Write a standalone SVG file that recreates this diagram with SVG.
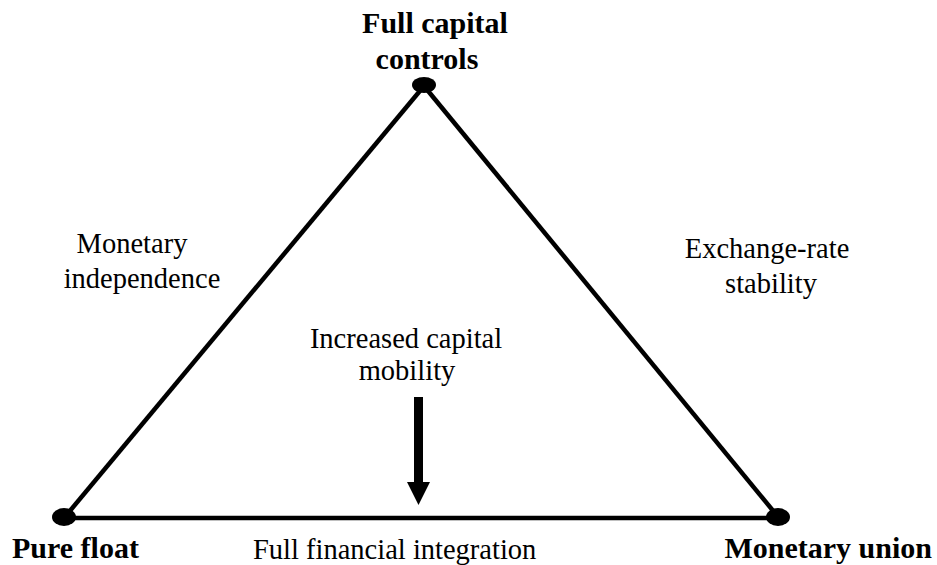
<svg xmlns="http://www.w3.org/2000/svg" width="937" height="565" viewBox="0 0 937 565">
<style>
.b{font-family:"Liberation Serif","Times New Roman",serif;font-weight:bold;font-size:30px;fill:#000}
.r{font-family:"Liberation Serif","Times New Roman",serif;font-size:28.5px;fill:#000}
.m{text-anchor:middle}
.edge{stroke:#000;stroke-width:4.5;fill:none}
.dot{fill:#000}
</style>
<rect width="937" height="565" fill="#fff"/>
<g id="connectors">
<line class="edge" x1="64" y1="518" x2="424" y2="86"/>
<line class="edge" x1="424" y1="86" x2="779" y2="518"/>
<line class="edge" x1="64" y1="518" x2="779" y2="518"/>
<g id="arrow">
<rect x="414" y="397" width="9" height="86" fill="#000"/>
<polygon points="407,482 430,482 418.5,505" fill="#000"/>
</g>
</g>
<g id="full-capital-controls">
<ellipse class="dot" cx="424" cy="85" rx="12" ry="8"/>
<text class="b m" x="435" y="33">Full capital</text>
<text class="b m" x="427" y="69">controls</text>
</g>
<g id="pure-float">
<ellipse class="dot" cx="64" cy="517" rx="12" ry="9"/>
<text class="b" x="12" y="558">Pure float</text>
</g>
<g id="monetary-union">
<ellipse class="dot" cx="778" cy="517" rx="12" ry="9"/>
<text class="b" x="932" y="558" text-anchor="end">Monetary union</text>
</g>
<g id="labels">
<text class="r m" x="132" y="253">Monetary</text>
<text class="r m" x="142" y="288">independence</text>
<text class="r m" x="767" y="258">Exchange-rate</text>
<text class="r m" x="771" y="293">stability</text>
<text class="r m" x="406" y="348">Increased capital</text>
<text class="r m" x="407" y="380">mobility</text>
<text class="r" x="253" y="559">Full financial integration</text>
</g>
</svg>
